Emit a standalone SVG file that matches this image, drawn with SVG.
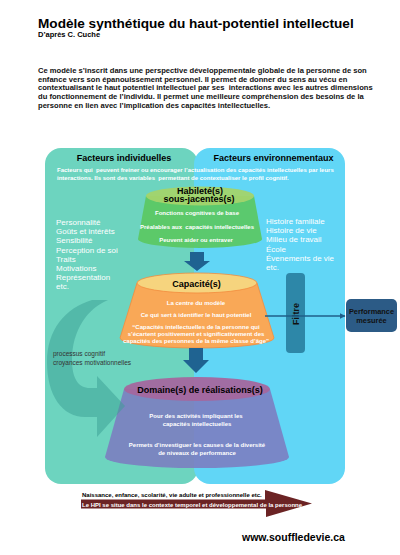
<svg xmlns="http://www.w3.org/2000/svg" width="400" height="555" viewBox="0 0 400 555">
<style>
text{font-family:"Liberation Sans",Arial,sans-serif}
.b{font-weight:bold}
.w{fill:#fff}
.hd{font-size:9px;font-weight:bold;fill:#000}
.in{font-size:6px;font-weight:bold;fill:#fff;text-anchor:middle}
.ls{font-size:8px;fill:#fff}
.par{font-size:7.6px;font-weight:bold;fill:#111}
</style>
<defs>
<marker id="ah" viewBox="0 0 10 10" refX="9" refY="5" markerWidth="6" markerHeight="6" orient="auto" markerUnits="userSpaceOnUse"><path d="M0,0 L10,5 L0,10 Z" fill="#1f5f8a"/></marker>
</defs>
<rect width="400" height="555" fill="#fff"/>
<g id="header">
<text x="38" y="27.5" class="b" font-size="13.6" fill="#000">Modèle synthétique du haut-potentiel intellectuel</text>
<text x="38" y="36.5" class="b" font-size="7.5" fill="#000">D’après C. Cuche</text>
<text class="par"><tspan x="38" y="73">Ce modèle s’inscrit dans une perspective développementale globale de la personne de son</tspan><tspan x="38" y="81.7">enfance vers son épanouissement personnel. Il permet de donner du sens au vécu en</tspan><tspan x="38" y="90.4">contextualisant le haut potentiel intellectuel par ses &#160;interactions avec les autres dimensions</tspan><tspan x="38" y="99.1">du fonctionnement de l’individu. Il permet une meilleure compréhension des besoins de la</tspan><tspan x="38" y="107.8">personne en lien avec l’implication des capacités intellectuelles.</tspan></text>
</g>
<g id="panel-individuel">
<rect x="45" y="148" width="153" height="336" rx="16" fill="#6dd4bf"/>
</g>
<g id="panel-environnement">
<rect x="194" y="148" width="151" height="336" rx="16" fill="#61d6f6"/>
</g>
<g id="panel-texts">
<text x="124" y="160.5" class="hd" text-anchor="middle">Facteurs individuelles</text>
<text x="273.5" y="160.5" class="hd" text-anchor="middle">Facteurs environnementaux</text>
<text class="b w" font-size="6"><tspan x="57" y="171.5">Facteurs qui &#160;peuvent freiner ou encourager l’actualisation des capacités intellectuelles par leurs</tspan><tspan x="57" y="179.5">interactions. Ils sont des variables &#160;permettant de contextualiser le profil cognitif.</tspan></text>
<text class="ls"><tspan x="56" y="225">Personnalité</tspan><tspan x="56" y="234.2">Goûts et intérêts</tspan><tspan x="56" y="243.4">Sensibilité</tspan><tspan x="56" y="252.6">Perception de soi</tspan><tspan x="56" y="261.8">Traits</tspan><tspan x="56" y="271">Motivations</tspan><tspan x="56" y="280.2">Représentation</tspan><tspan x="56" y="289.4">etc.</tspan></text>
<text class="ls"><tspan x="266" y="224">Histoire familiale</tspan><tspan x="266" y="233.2">Histoire de vie</tspan><tspan x="266" y="242.4">Milieu de travail</tspan><tspan x="266" y="251.6">École</tspan><tspan x="266" y="260.8">Évenements de vie</tspan><tspan x="266" y="270">etc.</tspan></text>
</g>
<g id="habilete">
<path d="M146,196 L138,239 A62,9 0 0 0 262,239 L254,196 Z" fill="#5bc862" opacity="0.92"/>
<ellipse cx="200" cy="196" rx="54" ry="9.5" fill="#a3d46c" opacity="0.95"/>
<text x="200" y="193.5" class="hd" font-size="9.5" text-anchor="middle">Habileté(s)</text>
<text x="199" y="202" class="hd" font-size="9.5" text-anchor="middle">sous-jacentes(s)</text>
<text x="197" y="214.5" class="in">Fonctions cognitives de base</text>
<text x="197" y="228.8" class="in">Préalables aux &#160;capacités intellectuelles</text>
<text x="196" y="242" class="in">Peuvent aider ou entraver</text>
</g>
<g id="capacite">
<path d="M137,283 L120,338 A77,10 0 0 0 274,338 L257,283 Z" fill="#f9a857" stroke="#f28c3e" stroke-width="0.8"/>
<ellipse cx="197" cy="283" rx="60" ry="10" fill="#f6d47e" stroke="#f28c3e" stroke-width="0.8"/>
<text x="196.5" y="286.5" class="hd" font-size="9.5" text-anchor="middle">Capacité(s)</text>
<text x="196" y="305" class="in">La centre du modèle</text>
<text x="196" y="316.5" class="in">Ce qui sert à identifier le haut potentiel</text>
<text class="in"><tspan x="196" y="328.5">“Capacités intellectuelles de la personne qui</tspan><tspan x="196" y="335.7">s’écartent positivement et significativement des</tspan><tspan x="196" y="342.9">capacités des personnes de la même classe d’âge”</tspan></text>
</g>
<g id="domaine">
<path d="M124,389 L105,457 A92,11 0 0 0 289,457 L270,389 Z" fill="#7c7cc0" opacity="0.88"/>
<ellipse cx="197" cy="389" rx="73" ry="12" fill="#a4679e" opacity="0.95"/>
<text x="200" y="392.5" class="hd" text-anchor="middle">Domaine(s) de réalisations(s)</text>
<text x="196" y="417.5" class="in">Pour des activités impliquant les</text>
<text x="197" y="425.5" class="in">capacités intellectuelles</text>
<text x="197" y="446.5" class="in">Permets d’investiguer les causes de la diversité</text>
<text x="197" y="454.5" class="in">de niveaux de performance</text>
</g>
<g id="filtre">
<rect x="286" y="273" width="19" height="80" rx="4" fill="#2d87a8"/>
<text transform="translate(298.5,314) rotate(-90)" class="b" font-size="9" text-anchor="middle" fill="#111">Filtre</text>
</g>
<g id="performance">
<rect x="346" y="299" width="51" height="33" rx="5" fill="#2c5b86"/>
<text x="371.5" y="313.5" class="b" font-size="7.4" text-anchor="middle" fill="#111">Performance</text>
<text x="371.5" y="323" class="b" font-size="7.4" text-anchor="middle" fill="#111">mesurée</text>
</g>
<g id="connectors">
<path d="M190,252 L204,252 L204,261 L210,261 L197,271 L184,261 L190,261 Z" fill="#1f6391"/>
<path d="M189,348 L203,348 L203,360 L209,360 L196,373 L183,360 L189,360 Z" fill="#1f6391"/>
<line x1="265" y1="316" x2="345" y2="316" stroke="#1f5f8a" stroke-width="1.4" marker-end="url(#ah)"/>
<path d="M108,300 C88,308 72,330 72,360 C72,378 78,388 90,388 L97,388 L97,376 L125,406 L97,437 L97,417 L85,417 C62,417 47,395 47,362 C47,330 65,308 92,300 Z" fill="#3a9d93" opacity="0.5"/>
<text x="53" y="356" font-size="6.5" fill="#333">processus cognitif</text>
<text x="53" y="364.5" font-size="6.5" fill="#333">croyances motivationnelles</text>
</g>
<g id="timeline">
<path d="M81,499.5 L265,499.5 L265,490 L312,503.5 L266,517 L266,508.5 L81,508.5 Z" fill="#6b2324"/>
<text x="82" y="497" class="b" font-size="6" fill="#000">Naissance, enfance, scolarité, vie adulte et professionnelle etc.</text>
<text x="82" y="506.5" class="b w" font-size="6">Le HPI se situe dans le contexte temporel et développemental de la personne</text>
</g>
<text x="242" y="541" class="b" font-size="10.5" fill="#000">www.souffledevie.ca</text>
</svg>
